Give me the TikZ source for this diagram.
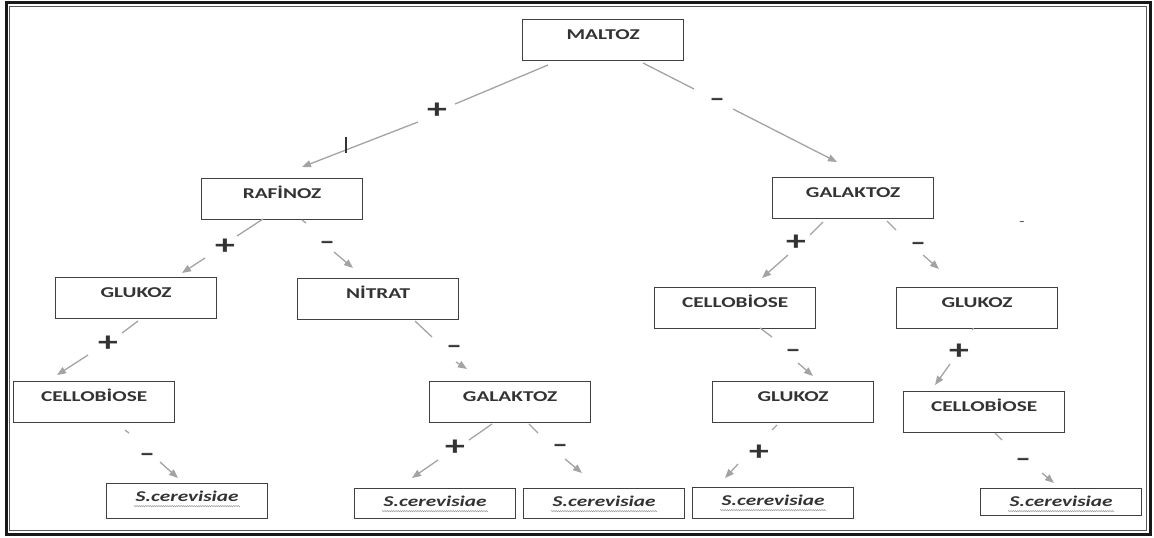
\documentclass[tikz,border=0pt]{standalone}
\usepackage{fontspec}
\setmainfont{Carlito}[FakeStretch=1.42]
\newfontfamily\labfont{Carlito}[FakeBold=2.5,FakeStretch=1.2]
\usetikzlibrary{arrows.meta,decorations.pathmorphing}
\definecolor{boxc}{HTML}{404040}
\definecolor{linec}{HTML}{A3A3A3}
\definecolor{txtc}{HTML}{333333}
\newcommand\myconn[5]{%
  \coordinate (#1a) at (#2);
  \coordinate (#1b) at (#3);
  \coordinate (#1c) at (#4);
  \coordinate (#1d) at (#5);
  \draw[seg] (#1a) -- (#1b);
  \draw[seg,-{Triangle[length=9pt,width=7pt]}] (#1c) -- (#1d);}
\begin{document}
\begin{tikzpicture}[x=1pt,y=-1pt,
  box/.style={draw=boxc,line width=1.2pt,rectangle,anchor=north west,
    minimum width=161pt,inner xsep=0pt,inner ysep=9.5pt,
    text height=10pt,text depth=12pt,text=txtc,font=\fontsize{15}{15}\selectfont\bfseries},
  sbox/.style={box,inner ysep=8pt,text depth=#1,font=\fontsize{15}{15}\selectfont\bfseries\itshape},
  seg/.style={draw=linec,line width=1.3pt},
  pl/.style={text=txtc,inner sep=0pt,font=\fontsize{28}{28}\selectfont\bfseries},
  mi/.style={text=txtc,inner sep=0pt,font=\fontsize{24}{24}\selectfont\labfont},
  wavy/.style={draw=gray!80,line width=0.5pt,decorate,
    decoration={snake,amplitude=0.6pt,segment length=2.2pt}}]
\useasboundingbox (0,0) rectangle (1154,538);
% frame
\draw[line width=3pt,black!90] (6.5,2.5) rectangle (1150,534);
\draw[line width=0.9pt,black!65] (9.8,6.2) rectangle (1146.8,530.5);
% boxes
\node[box] (maltoz) at (522,19) {MALTOZ};
\node[box] (rafinoz) at (201,178) {RAFİNOZ};
\node[box] (galR) at (772,177) {GALAKTOZ};
\node[box] (glukL) at (55,277) {GLUKOZ};
\node[box] (nitrat) at (297,278) {NİTRAT};
\node[box] (cellM) at (654,287) {CELLOBİOSE};
\node[box] (glukR) at (896,287) {GLUKOZ};
\node[box] (cellL) at (13,381) {CELLOBİOSE};
\node[box] (galM) at (429,381) {GALAKTOZ};
\node[box] (glukM) at (712,381) {GLUKOZ};
\node[box] (cellR) at (903,391) {CELLOBİOSE};
\node[sbox=9pt] (s1) at (106,483) {S.cerevisiae};
\node[sbox=4pt] (s2) at (354,488) {S.cerevisiae};
\node[sbox=4pt] (s3) at (523,488) {S.cerevisiae};
\node[sbox=5pt] (s4) at (692,487) {S.cerevisiae};
\node[sbox=1pt] (s5) at (980,488) {S.cerevisiae};
\foreach \s in {s1,s2,s3,s4,s5}{
  \draw[wavy] ([xshift=-53pt,yshift=-4.5pt]\s.base) -- ([xshift=53pt,yshift=-4.5pt]\s.base);}
% connectors
\myconn{c1}{548,65}{455,104}{418,122}{302,167}
\myconn{c2}{643,63}{694,89}{733,109}{837,162}
\myconn{c3}{263,219}{237,236}{205,258}{182,273}
\myconn{c4}{302,220}{306,223}{334,252}{353,268}
\myconn{c5}{823,222}{810,235}{788,255}{762,278}
\myconn{c6}{887,221}{896,230}{923,255}{939,269}
\myconn{c7}{415,321}{432,337}{456,362}{467,369}
\myconn{c8}{492,424}{469,440}{438,460}{412,478}
\myconn{c9}{529,424}{538,433}{565,459}{582,473}
\myconn{c10}{138,321}{122,333}{88,355}{57,375}
\myconn{c11}{125,430}{129,433}{160,462}{178,478}
\myconn{c12}{760,328}{772,337}{798,363}{813,376}
\myconn{c13}{777,425}{772,430}{738,464}{725,478}
\myconn{c14}{973.5,328}{972.5,330}{950,364}{935,385}
\myconn{c15}{995,433}{1002,440}{1042,473}{1054,483}
% labels
\node[pl] (l1) at (437,111) {+};
\node[mi] (l2) at (717,102) {–};
\node[pl] (l3) at (225,247) {+};
\node[mi] (l4) at (327,245) {–};
\node[pl] (l5) at (796,243) {+};
\node[mi] (l6) at (918,246) {–};
\node[mi] (l7) at (454,349) {–};
\node[pl] (l8) at (455,448) {+};
\node[mi] (l9) at (560,448) {–};
\node[pl] (l10) at (108,344) {+};
\node[mi] (l11) at (147,457) {–};
\node[mi] (l12) at (793,353) {–};
\node[pl] (l13) at (759,453) {+};
\node[pl] (l14) at (959,352) {+};
\node[mi] (l15) at (1023,462) {–};
\node[text=txtc,inner sep=0pt,font=\fontsize{12}{12}\selectfont] (stray) at (1022,224) {-};
\coordinate (tickA) at (346,137);
\coordinate (tickB) at (346,153);
\draw[line width=1.1pt,txtc] (tickA) -- (tickB);
\end{tikzpicture}
\end{document}
